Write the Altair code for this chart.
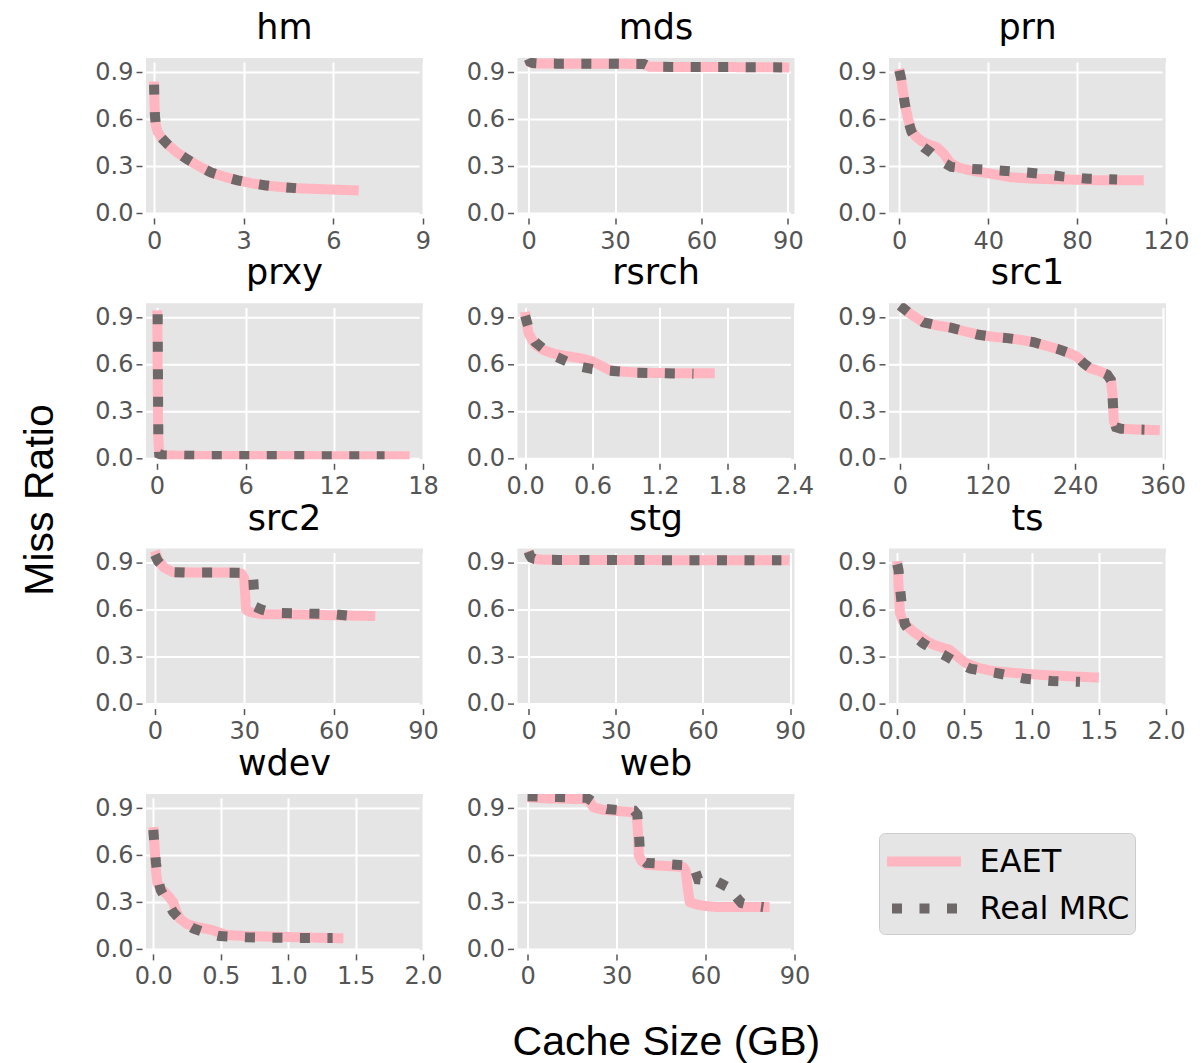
import altair as alt
import pandas as pd

PINK = "#ffb6c1"
GRAY = "#6e6868"
BG = "#e5e5e5"
SERIES = ["EAET", "Real MRC"]
Y_TICKS = [0.0, 0.3, 0.6, 0.9]

# ---- hm ----
HM_E_X = [0, 0.01, 0.03, 0.06, 0.12, 0.25, 0.45, 0.75, 1.1, 1.5, 1.9, 2.4, 2.8, 3.3, 3.7, 4.2, 4.7, 5.4, 6.1, 6.85]
HM_E_Y = [0.84, 0.72, 0.62, 0.56, 0.52, 0.48, 0.44, 0.39, 0.345, 0.30, 0.26, 0.23, 0.21, 0.19, 0.178, 0.168, 0.16, 0.155, 0.15, 0.145]
HM_M_X = [0, 0.01, 0.03, 0.06, 0.12, 0.25, 0.45, 0.75, 1.1, 1.5, 1.9, 2.4, 2.8, 3.3, 3.7, 4.2, 4.75]
HM_M_Y = [0.82, 0.72, 0.62, 0.56, 0.52, 0.48, 0.44, 0.39, 0.345, 0.30, 0.26, 0.23, 0.21, 0.19, 0.178, 0.168, 0.16]
# ---- mds ----
MDS_E_X = [0, 0.3, 1, 3, 10, 20, 30, 40, 42, 50, 60, 70, 80, 90.5]
MDS_E_Y = [0.975, 0.965, 0.958, 0.955, 0.954, 0.954, 0.953, 0.952, 0.934, 0.933, 0.932, 0.932, 0.931, 0.93]
MDS_M_X = [0, 0.5, 1.5, 4, 10, 20, 30, 40, 42, 50, 60, 70, 80, 88]
MDS_M_Y = [0.985, 0.965, 0.958, 0.955, 0.954, 0.954, 0.953, 0.952, 0.934, 0.933, 0.932, 0.932, 0.931, 0.93]
# ---- prn ----
PRN_E_X = [0, 1, 2.5, 4, 5.5, 7.5, 10, 13, 17, 20, 23, 27, 33, 40, 50, 60, 75, 90, 110]
PRN_E_Y = [0.92, 0.84, 0.70, 0.60, 0.53, 0.49, 0.46, 0.44, 0.42, 0.38, 0.32, 0.29, 0.27, 0.255, 0.23, 0.22, 0.215, 0.21, 0.21]
PRN_M_X = [0, 1, 2.5, 4, 5.5, 8, 11, 14, 18, 23.5, 30, 36, 48, 61, 73, 85, 98]
PRN_M_Y = [0.91, 0.85, 0.70, 0.59, 0.52, 0.46, 0.42, 0.39, 0.34, 0.295, 0.285, 0.28, 0.27, 0.255, 0.235, 0.22, 0.215]
# ---- prxy ----
PRXY_E_X = [0.02, 0.03, 0.05, 0.08, 0.15, 0.4, 2, 6, 12, 17.1]
PRXY_E_Y = [0.945, 0.85, 0.5, 0.15, 0.04, 0.02, 0.017, 0.016, 0.015, 0.015]
PRXY_M_X = [0.05, 0.06, 0.08, 0.1, 0.15, 0.4, 2, 6, 12, 15.4]
PRXY_M_Y = [0.92, 0.7, 0.35, 0.1, 0.03, 0.02, 0.017, 0.016, 0.015, 0.015]
# ---- rsrch ----
RS_E_X = [0, 0.01, 0.03, 0.06, 0.1, 0.17, 0.25, 0.35, 0.49, 0.6, 0.68, 0.75, 0.85, 1.0, 1.2, 1.45, 1.69]
RS_E_Y = [0.935, 0.88, 0.80, 0.76, 0.72, 0.69, 0.67, 0.655, 0.64, 0.62, 0.59, 0.565, 0.555, 0.548, 0.545, 0.544, 0.544]
RS_M_X = [0, 0.02, 0.05, 0.09, 0.18, 0.28, 0.4, 0.5, 0.6, 0.74, 0.99, 1.24, 1.5]
RS_M_Y = [0.91, 0.86, 0.79, 0.742, 0.69, 0.648, 0.61, 0.585, 0.57, 0.56, 0.547, 0.544, 0.54]
# ---- src1 ----
S1_E_X = [0, 15, 32, 50, 71, 90, 108, 130, 147, 165, 183, 200, 218, 232, 243, 252, 261, 272, 284, 289, 291, 292, 293, 296, 303, 320, 340, 356]
S1_E_Y = [0.975, 0.92, 0.869, 0.85, 0.833, 0.81, 0.789, 0.775, 0.768, 0.757, 0.742, 0.72, 0.696, 0.672, 0.648, 0.606, 0.575, 0.56, 0.535, 0.5, 0.42, 0.33, 0.24, 0.2, 0.19, 0.186, 0.183, 0.18]
S1_M_X = [0, 15, 32, 50, 71, 90, 108, 130, 147, 165, 183, 200, 218, 232, 243, 252, 261, 272, 284, 289, 291, 292, 293, 296, 303, 320, 335]
S1_M_Y = [0.975, 0.92, 0.869, 0.85, 0.833, 0.81, 0.789, 0.775, 0.768, 0.757, 0.742, 0.72, 0.696, 0.672, 0.648, 0.606, 0.575, 0.56, 0.535, 0.5, 0.42, 0.33, 0.24, 0.2, 0.19, 0.186, 0.184]
# ---- src2 ----
S2_E_X = [0, 1, 3, 6, 15, 26, 29, 30, 30.3, 30.6, 32, 36, 48, 59, 74]
S2_E_Y = [0.975, 0.92, 0.87, 0.84, 0.837, 0.837, 0.832, 0.8, 0.7, 0.6, 0.585, 0.572, 0.57, 0.565, 0.56]
S2_M_X = [0, 1, 3, 6, 10, 20, 30, 32, 33, 33.3, 33.6, 36, 40, 50, 60, 68.5]
S2_M_Y = [0.95, 0.91, 0.87, 0.84, 0.837, 0.837, 0.835, 0.83, 0.80, 0.7, 0.62, 0.60, 0.58, 0.576, 0.572, 0.555]
# ---- stg ----
STG_E_X = [0, 0.5, 1, 2, 4, 10, 30, 60, 89.8]
STG_E_Y = [0.975, 0.95, 0.935, 0.925, 0.92, 0.918, 0.917, 0.916, 0.915]
STG_M_X = [0, 0.5, 1, 2, 4, 10, 30, 60, 87]
STG_M_Y = [0.97, 0.945, 0.932, 0.924, 0.92, 0.918, 0.917, 0.916, 0.915]
# ---- ts ----
TS_E_X = [0, 0.005, 0.01, 0.02, 0.04, 0.07, 0.12, 0.17, 0.22, 0.27, 0.33, 0.39, 0.45, 0.51, 0.6, 0.71, 0.9, 1.08, 1.3, 1.5]
TS_E_Y = [0.91, 0.85, 0.75, 0.58, 0.53, 0.50, 0.46, 0.43, 0.40, 0.377, 0.36, 0.345, 0.30, 0.26, 0.23, 0.209, 0.195, 0.184, 0.175, 0.167]
TS_M_X = [0, 0.01, 0.02, 0.035, 0.057, 0.1, 0.19, 0.28, 0.365, 0.45, 0.545, 0.747, 0.944, 1.149, 1.36]
TS_M_Y = [0.89, 0.854, 0.75, 0.62, 0.507, 0.45, 0.387, 0.34, 0.303, 0.26, 0.224, 0.195, 0.161, 0.146, 0.14]
# ---- wdev ----
WD_E_X = [0, 0.01, 0.02, 0.03, 0.05, 0.074, 0.11, 0.148, 0.17, 0.198, 0.25, 0.32, 0.44, 0.54, 0.7, 0.84, 1.1, 1.41]
WD_E_Y = [0.778, 0.65, 0.50, 0.424, 0.39, 0.371, 0.34, 0.299, 0.24, 0.194, 0.16, 0.142, 0.121, 0.09, 0.083, 0.08, 0.075, 0.069]
WD_M_X = [0, 0.01, 0.02, 0.035, 0.055, 0.1, 0.148, 0.22, 0.30, 0.4, 0.49, 0.69, 0.9, 1.11, 1.33]
WD_M_Y = [0.76, 0.65, 0.549, 0.45, 0.376, 0.31, 0.236, 0.17, 0.131, 0.1, 0.083, 0.075, 0.073, 0.071, 0.071]
# ---- web ----
WEB_E_X = [0, 5, 10, 20, 21, 22.2, 25, 28.9, 33, 35.7, 36.8, 37.2, 37.5, 38.5, 40.2, 45, 49.1, 52.5, 53.3, 53.8, 54.3, 54.7, 57, 59.2, 63.7, 70, 81.6]
WEB_E_Y = [0.968, 0.962, 0.96, 0.956, 0.94, 0.904, 0.89, 0.883, 0.877, 0.872, 0.85, 0.75, 0.6, 0.56, 0.538, 0.532, 0.528, 0.524, 0.5, 0.42, 0.35, 0.299, 0.285, 0.277, 0.268, 0.268, 0.268]
WEB_M_X = [0, 10, 20, 22, 24, 26.7, 30, 35.9, 37, 37.5, 38, 40, 46.5, 50, 55.5, 56.5, 57.5, 60, 63, 65, 67.1, 69, 70, 72.1, 75, 79.5]
WEB_M_Y = [0.975, 0.97, 0.965, 0.94, 0.905, 0.893, 0.888, 0.883, 0.86, 0.75, 0.58, 0.55, 0.543, 0.538, 0.532, 0.5, 0.445, 0.44, 0.44, 0.42, 0.399, 0.399, 0.34, 0.294, 0.28, 0.268]

PANELS = [
    ("hm", [-0.27, 9], [0, 3, 6, 9], "d", HM_E_X, HM_E_Y, HM_M_X, HM_M_Y),
    ("mds", [-3.85, 92.3], [0, 30, 60, 90], "d", MDS_E_X, MDS_E_Y, MDS_M_X, MDS_M_Y),
    ("prn", [-4.6, 120], [0, 40, 80, 120], "d", PRN_E_X, PRN_E_Y, PRN_M_X, PRN_M_Y),
    ("prxy", [-0.74, 18], [0, 6, 12, 18], "d", PRXY_E_X, PRXY_E_Y, PRXY_M_X, PRXY_M_Y),
    ("rsrch", [-0.068, 2.4], [0.0, 0.6, 1.2, 1.8, 2.4], ".1f", RS_E_X, RS_E_Y, RS_M_X, RS_M_Y),
    ("src1", [-15, 364.5], [0, 120, 240, 360], "d", S1_E_X, S1_E_Y, S1_M_X, S1_M_Y),
    ("src2", [-3, 90], [0, 30, 60, 90], "d", S2_E_X, S2_E_Y, S2_M_X, S2_M_Y),
    ("stg", [-3.8, 91.5], [0, 30, 60, 90], "d", STG_E_X, STG_E_Y, STG_M_X, STG_M_Y),
    ("ts", [-0.061, 2.0], [0.0, 0.5, 1.0, 1.5, 2.0], ".1f", TS_E_X, TS_E_Y, TS_M_X, TS_M_Y),
    ("wdev", [-0.054, 2.0], [0.0, 0.5, 1.0, 1.5, 2.0], ".1f", WD_E_X, WD_E_Y, WD_M_X, WD_M_Y),
    ("web", [-3.4, 90], [0, 30, 60, 90], "d", WEB_E_X, WEB_E_Y, WEB_M_X, WEB_M_Y),
]


def make_panel(name, dom, ticks, fmt, ex, ey, mx, my):
    rows = []
    for i, (x, y) in enumerate(zip(ex, ey)):
        rows.append({"series": "EAET", "x": x, "y": y, "i": i})
    for i, (x, y) in enumerate(zip(mx, my)):
        rows.append({"series": "Real MRC", "x": x, "y": y, "i": i})
    df = pd.DataFrame(rows)
    base = alt.Chart(df).encode(
        x=alt.X("x:Q", title=None,
                scale=alt.Scale(domain=dom, nice=False, zero=False),
                axis=alt.Axis(values=ticks, format=fmt)),
        y=alt.Y("y:Q", title=None,
                scale=alt.Scale(domain=[-0.005, 0.99], nice=False, zero=False),
                axis=alt.Axis(values=Y_TICKS, format=".1f")),
        color=alt.Color("series:N", title=None,
                        scale=alt.Scale(domain=SERIES, range=[PINK, GRAY])),
        strokeDash=alt.StrokeDash("series:N", title=None,
                                  scale=alt.Scale(domain=SERIES, range=[[1, 0], [10, 17.5]])),
        order="i:Q",
    )
    eaet = base.transform_filter(alt.datum.series == "EAET").mark_line(
        strokeWidth=10, strokeJoin="round", strokeCap="butt", clip=True)
    mrc = base.transform_filter(alt.datum.series == "Real MRC").mark_line(
        strokeWidth=10, strokeJoin="miter", strokeCap="butt", clip=True)
    return alt.layer(eaet, mrc).properties(width=277, height=156, title=name)


charts = [make_panel(*p) for p in PANELS]

grid = alt.concat(
    *charts, columns=3, spacing={"row": 89.3, "column": 94.5}, bounds="flush",
    title=alt.Title("Miss Ratio", orient="left", anchor="middle", font="Liberation Sans",
                    fontSize=41, fontWeight="normal", color="black", offset=33),
)

chart = alt.vconcat(
    grid, bounds="flush",
    title=alt.Title("Cache Size (GB)", orient="bottom", anchor="middle", font="Liberation Sans",
                    fontSize=41, fontWeight="normal", color="black", offset=34, dx=62),
).configure(
    padding={"left": 11, "top": 3, "right": 0, "bottom": 0}, font="DejaVu Sans"
).configure_view(
    fill=BG, strokeWidth=0
).configure_axis(
    domain=False, grid=True, gridColor="white", gridWidth=2,
    tickColor="#555555", tickSize=6, tickWidth=1.5, offset=4,
    labelFont="DejaVu Sans", labelFontSize=24, labelColor="#555555",
    labelFlush=False, labelOverlap=False,
).configure_axisX(
    labelPadding=5
).configure_axisY(
    labelPadding=3
).configure_title(
    font="DejaVu Sans", fontSize=35, fontWeight="normal", color="black",
    anchor="middle", baseline="alphabetic", offset=12,
).configure_legend(
    orient="none", legendX=733, legendY=775,
    fillColor="#e5e5e5", strokeColor="#cccccc", cornerRadius=6, padding=5,
    labelFont="DejaVu Sans", labelFontSize=32, labelColor="black", labelOffset=32,
    symbolType="M-2,0H2", symbolSize=1369, symbolOffset=16.5, symbolStrokeWidth=10,
    symbolDashOffset=-5, rowPadding=3,
)

chart.save("out.html", embed_options={"renderer": "svg", "actions": False})
